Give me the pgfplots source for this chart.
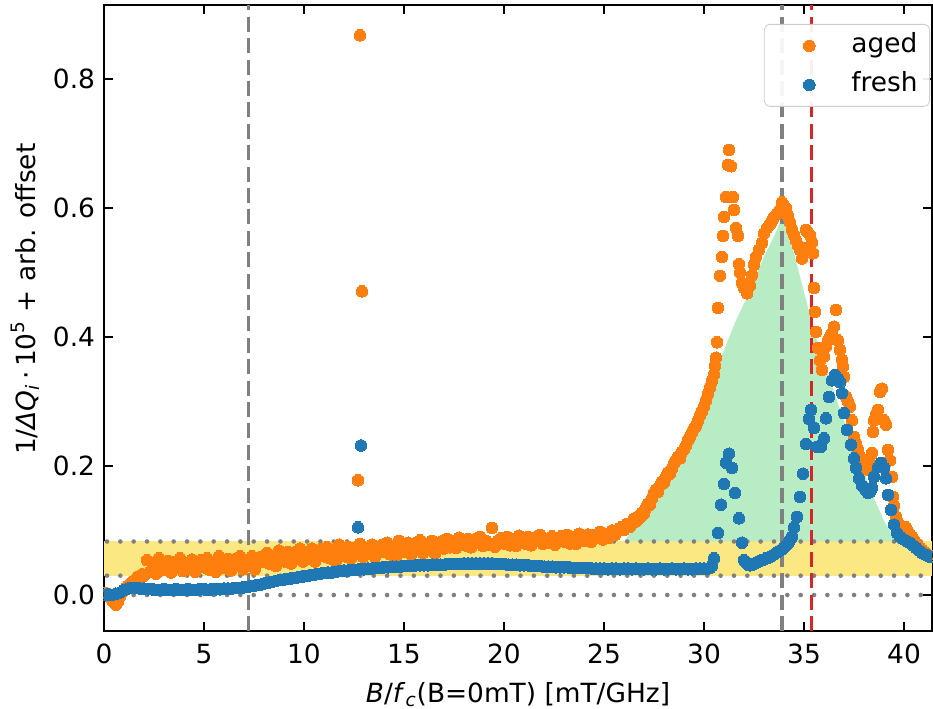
\documentclass[border=0pt]{standalone}
\usepackage{pgfplots}
\pgfplotsset{compat=1.18}
\usepackage{fontspec}
\setmainfont{DejaVu Sans}
\definecolor{orangec}{HTML}{FF7F0E}
\definecolor{bluec}{HTML}{1F77B4}
\definecolor{redc}{HTML}{D62728}
\definecolor{grayc}{HTML}{808080}
\definecolor{yellowc}{RGB}{252,232,130}
\definecolor{greenc}{RGB}{184,236,196}
\newcommand\fs{\fontsize{13.2bp}{15.8bp}\selectfont}
\begin{document}
\begin{tikzpicture}
\useasboundingbox (-52bp,-39bp) rectangle (414.5bp,315.5bp);
\begin{axis}[
  scale only axis, width=414bp, height=313bp,
  xmin=0, xmax=41.4, ymin=-0.0558, ymax=0.915,
  xtick={0,5,...,40}, ytick={0,0.2,0.4,0.6,0.8},
  yticklabels={0.0,0.2,0.4,0.6,0.8},
  /pgf/number format/assume math mode=true,
  tick align=inside, xtick pos=both, ytick pos=both,
  major tick length=4.3bp,
  every tick/.style={black, line width=0.8bp},
  axis line style={line width=0.8bp},
  tick label style={font=\fs},
  xticklabel style={yshift=-3bp},
  yticklabel style={xshift=-1bp},
  xlabel={\textit{B}/\textit{f}\textsubscript{\textit{c}}(B=0mT) [mT/GHz]},
  ylabel={1/\textit{ΔQ}\textsubscript{\textit{i}}\,·\,10\textsuperscript{5} + arb. offset},
  label style={font=\fs},
  xlabel style={at={(axis description cs:0.5,0)}, anchor=north, yshift=-22bp},
  ylabel style={at={(axis description cs:-0.095,0.53)}, anchor=center},
  clip marker paths=true,
  legend image code/.code={\path[draw=none,fill=none] (0bp,0bp) -- (37.5bp,0bp); \path[#1, draw=none, fill opacity=1, opacity=1] plot[only marks] coordinates {(18.5bp,0bp)};},
  legend style={at={(axis description cs:0.9976,0.9697)}, anchor=north east, draw=black!20, rounded corners=3bp,
    fill=white, fill opacity=0.92, text opacity=1, font=\fs, inner xsep=4bp, inner ysep=2.5bp,
    nodes={inner sep=2bp, text height=9.5bp, text depth=3bp},
    row sep=3bp},
  legend cell align=left,
]
% fills
\addplot[fill=yellowc, draw=none, forget plot] coordinates {(0,0.03) (41.4,0.03) (41.4,0.083) (0,0.083)} -- cycle;
\addplot[fill=greenc, draw=none, forget plot] coordinates {(26.0,0.083) (27.0,0.125) (28.0,0.175) (29.0,0.235) (30.0,0.305) (31.0,0.38) (31.6,0.426) (32.25,0.468) (33.0,0.525) (33.5,0.556) (33.9,0.585) (34.5,0.53) (35.0,0.47) (35.5,0.41) (36.0,0.36) (36.5,0.315) (37.0,0.27) (37.5,0.23) (38.0,0.19) (38.5,0.15) (39.0,0.115) (39.5,0.09) (39.7,0.083)} -- cycle;
% dotted lines
\addplot[grayc, line width=2.3bp, line cap=round, dash pattern=on 0bp off 6.67bp, forget plot] coordinates {(0.15,0) (41.4,0)};
\addplot[grayc, line width=2.3bp, line cap=round, dash pattern=on 0bp off 6.67bp, forget plot] coordinates {(0.15,0.03) (41.4,0.03)};
\addplot[grayc, line width=2.3bp, line cap=round, dash pattern=on 0bp off 6.67bp, forget plot] coordinates {(0.15,0.083) (41.4,0.083)};
% dashed lines
\addplot[grayc, line width=1.65bp, dash pattern=on 7.5bp off 3.2bp, forget plot] coordinates {(7.23,-0.0558) (7.23,0.915)};
\addplot[grayc, line width=1.65bp, dash pattern=on 7.5bp off 3.2bp, forget plot] coordinates {(33.9,-0.0558) (33.9,0.915)};
\addplot[redc, line width=1.65bp, dash pattern=on 7.5bp off 3.2bp, forget plot] coordinates {(35.36,-0.0558) (35.36,0.915)};
% aged
\addplot[only marks, mark=*, mark size=2.9bp, color=orangec, mark options={fill=orangec, draw=orangec, line width=0pt}] coordinates {
(0.0,0.003)(0.1,0.000)(0.2,0.002)(0.3,-0.004)(0.4,-0.008)(0.5,-0.012)(0.6,-0.015)(0.7,-0.010)(0.8,-0.002)(0.9,0.004)(1.0,0.008)(1.1,0.012)(1.2,0.010)(1.3,0.016)(1.4,0.020)(1.5,0.018)(1.6,0.024)(1.7,0.028)(1.8,0.025)(1.9,0.032)(2.0,0.030)
(2.15,0.054)(2.30,0.036)(2.45,0.048)(2.60,0.033)(2.75,0.057)(2.90,0.045)(3.05,0.039)(3.20,0.053)(3.35,0.035)(3.50,0.051)
(3.65,0.044)(3.80,0.057)(3.95,0.037)(4.10,0.049)(4.25,0.041)(4.40,0.055)(4.55,0.036)(4.70,0.048)(4.85,0.054)(5.00,0.043)
(5.15,0.057)(5.30,0.039)(5.45,0.051)(5.60,0.036)(5.75,0.060)(5.90,0.048)(6.05,0.042)(6.20,0.056)(6.35,0.038)(6.50,0.055)
(6.65,0.047)(6.80,0.060)(6.95,0.040)(7.10,0.053)(7.25,0.045)(7.40,0.060)(7.55,0.040)(7.70,0.053)(7.85,0.059)(8.00,0.051)
(8.15,0.065)(8.30,0.048)(8.45,0.060)(8.60,0.045)(8.75,0.069)(8.90,0.058)(9.05,0.052)(9.20,0.067)(9.35,0.049)(9.50,0.066)
(9.65,0.058)(9.80,0.072)(9.95,0.052)(10.10,0.065)(10.25,0.057)(10.40,0.072)(10.55,0.052)(10.70,0.064)(10.85,0.071)(11.00,0.060)
(11.15,0.074)(11.30,0.057)(11.45,0.069)(11.60,0.053)(11.75,0.078)(11.90,0.066)(12.05,0.060)(12.20,0.075)(12.35,0.057)(12.50,0.073)
(12.65,0.066)(12.80,0.079)(12.95,0.059)(13.10,0.072)(13.25,0.064)(13.40,0.078)(13.55,0.059)(13.70,0.071)(13.85,0.077)(14.00,0.067)
(14.15,0.081)(14.30,0.063)(14.45,0.076)(14.60,0.060)(14.75,0.084)(14.90,0.073)(15.05,0.067)(15.20,0.081)(15.35,0.063)(15.50,0.080)
(15.65,0.072)(15.80,0.085)(15.95,0.065)(16.10,0.078)(16.25,0.070)(16.40,0.084)(16.55,0.064)(16.70,0.077)(16.85,0.083)(17.00,0.072)
(17.15,0.087)(17.30,0.074)(17.45,0.083)(17.60,0.073)(17.75,0.089)(17.90,0.081)(18.05,0.077)(18.20,0.087)(18.35,0.074)(18.50,0.086)
(18.65,0.081)(18.80,0.090)(18.95,0.076)(19.10,0.084)(19.25,0.078)(19.40,0.104)(19.55,0.075)(19.70,0.084)(19.85,0.088)(20.00,0.080)
(20.15,0.090)(20.30,0.077)(20.45,0.087)(20.60,0.076)(20.75,0.092)(20.90,0.084)(21.05,0.080)(21.20,0.090)(21.35,0.077)(21.50,0.089)
(21.65,0.084)(21.80,0.093)(21.95,0.079)(22.10,0.087)(22.25,0.081)(22.40,0.091)(22.55,0.078)(22.70,0.087)(22.85,0.091)(23.00,0.083)
(23.15,0.093)(23.30,0.080)(23.45,0.090)(23.60,0.079)(23.75,0.095)(23.90,0.087)(24.05,0.084)(24.20,0.094)(24.35,0.082)(24.50,0.093)
(24.65,0.089)(24.80,0.098)(24.95,0.086)(25.10,0.094)(25.25,0.089)(25.40,0.100)(25.55,0.093)(25.70,0.102)(25.85,0.105)(26.00,0.101)
(26.15,0.110)(26.30,0.106)
(12.8,0.868)(12.9,0.471)(12.7,0.178)
(26.4,0.112)(26.5,0.118)(26.6,0.114)(26.7,0.122)(26.8,0.120)(26.9,0.128)(27.0,0.126)(27.1,0.135)(27.2,0.142)(27.3,0.140)
(27.4,0.150)(27.5,0.158)(27.6,0.163)(27.7,0.160)(27.8,0.170)(27.9,0.176)(28.0,0.174)(28.1,0.183)(28.2,0.190)(28.3,0.188)
(28.4,0.196)(28.5,0.204)(28.6,0.209)(28.7,0.214)(28.8,0.212)(28.9,0.222)(29.0,0.226)(29.1,0.232)(29.2,0.240)(29.3,0.245)
(29.4,0.252)(29.5,0.258)(29.6,0.262)(29.7,0.270)(29.8,0.278)(29.9,0.285)(30.0,0.292)(30.1,0.302)(30.2,0.312)(30.3,0.322)
(30.4,0.332)(30.5,0.342)(30.55,0.355)(30.6,0.368)(30.65,0.392)
(30.7,0.445)(30.8,0.495)(30.9,0.524)(30.95,0.557)(31.0,0.586)(31.1,0.617)(31.2,0.667)(31.25,0.69)(31.35,0.665)(31.45,0.617)
(31.5,0.597)(31.6,0.569)(31.7,0.557)(31.75,0.513)(31.8,0.500)(31.9,0.484)(32.0,0.476)(32.15,0.468)(32.3,0.48)(32.4,0.496)
(32.5,0.512)(32.6,0.524)(32.75,0.535)(32.9,0.546)(33.0,0.561)(33.15,0.569)(33.3,0.575)(33.4,0.58)(33.5,0.586)(33.65,0.592)
(33.8,0.596)(33.9,0.609)(34.0,0.604)(34.1,0.600)(34.2,0.588)(34.3,0.578)(34.4,0.566)(34.5,0.558)(34.6,0.55)(34.7,0.542)
(34.8,0.535)(34.9,0.522)(35.0,0.538)(35.1,0.566)(35.2,0.562)(35.3,0.558)(35.4,0.547)(35.45,0.530)(35.5,0.476)(35.55,0.439)
(35.6,0.408)(35.7,0.383)(35.8,0.364)(35.9,0.349)(36.0,0.370)(36.1,0.385)(36.2,0.395)(36.3,0.400)(36.4,0.406)(36.5,0.416)
(36.6,0.442)(36.7,0.395)(36.8,0.380)(36.9,0.365)(36.95,0.354)(37.0,0.338)(37.1,0.307)(37.2,0.300)(37.3,0.292)(37.4,0.271)
(37.5,0.245)(37.6,0.235)(37.7,0.225)(37.8,0.215)(37.9,0.209)(38.0,0.200)(38.1,0.196)(38.2,0.194)(38.3,0.205)(38.4,0.220)
(38.45,0.253)(38.5,0.271)(38.6,0.280)(38.7,0.287)(38.8,0.315)(38.85,0.318)(38.9,0.320)(39.0,0.271)(39.1,0.264)(39.2,0.225)
(39.3,0.209)(39.4,0.183)(39.45,0.152)(39.5,0.138)(39.6,0.121)(39.7,0.112)(39.8,0.105)(39.9,0.100)(40.0,0.102)(40.1,0.105)
(40.2,0.098)(40.3,0.093)(40.4,0.090)(40.5,0.085)(40.6,0.080)(40.7,0.076)(40.8,0.074)(40.9,0.070)(41.0,0.067)(41.1,0.065)
(41.2,0.062)(41.3,0.060)
};
\addlegendentry{aged}
% fresh
\addplot[only marks, mark=*, mark size=2.9bp, color=bluec, mark options={fill=bluec, draw=bluec, line width=0pt}] coordinates {
(0.0,0.000)(0.2,0.001)(0.4,0.000)(0.6,0.002)(0.8,0.004)(1.0,0.008)(1.2,0.010)(1.4,0.011)(1.6,0.011)(1.8,0.010)
(2.0,0.010)(2.2,0.009)(2.4,0.009)(2.6,0.008)(2.8,0.008)(3.0,0.009)(3.2,0.008)(3.4,0.008)(3.6,0.009)(3.8,0.008)
(4.0,0.008)(4.2,0.009)(4.4,0.008)(4.6,0.008)(4.8,0.009)(5.0,0.009)(5.2,0.008)(5.4,0.009)(5.6,0.009)(5.8,0.009)
(6.0,0.010)(6.2,0.010)(6.4,0.010)(6.6,0.011)(6.8,0.011)(7.0,0.012)(7.2,0.013)(7.4,0.014)(7.6,0.015)(7.8,0.016)
(8.0,0.018)(8.2,0.019)(8.4,0.020)(8.6,0.022)(8.8,0.023)(9.0,0.024)(9.2,0.025)(9.4,0.026)(9.6,0.027)(9.8,0.028)
(10.0,0.029)(10.2,0.030)(10.4,0.031)(10.6,0.032)(10.8,0.033)(11.0,0.034)(11.2,0.035)(11.4,0.035)(11.6,0.036)(11.8,0.037)
(12.0,0.038)(12.2,0.038)(12.4,0.039)(12.6,0.039)(12.8,0.040)(13.0,0.040)(13.2,0.041)(13.4,0.041)(13.6,0.042)(13.8,0.042)
(14.0,0.043)(14.2,0.043)(14.4,0.044)(14.6,0.044)(14.8,0.044)(15.0,0.045)(15.2,0.045)(15.4,0.045)(15.6,0.046)(15.8,0.046)
(16.0,0.046)(16.2,0.046)(16.4,0.047)(16.6,0.047)(16.8,0.047)(17.0,0.047)(17.2,0.048)(17.4,0.048)(17.6,0.048)(17.8,0.048)
(18.0,0.049)(18.2,0.049)(18.4,0.049)(18.6,0.049)(18.8,0.049)(19.0,0.049)(19.2,0.049)(19.4,0.049)(19.6,0.048)(19.8,0.048)
(20.0,0.048)(20.2,0.047)(20.4,0.047)(20.6,0.047)(20.8,0.046)(21.0,0.046)(21.2,0.046)(21.4,0.045)(21.6,0.045)(21.8,0.045)
(22.0,0.044)(22.2,0.044)(22.4,0.044)(22.6,0.043)(22.8,0.043)(23.0,0.043)(23.2,0.043)(23.4,0.042)(23.6,0.042)(23.8,0.042)
(24.0,0.042)(24.2,0.042)(24.4,0.041)(24.6,0.041)(24.8,0.041)(25.0,0.041)(25.2,0.040)(25.4,0.041)(25.6,0.041)(25.8,0.040)
(26.0,0.041)(26.2,0.041)(26.4,0.040)(26.6,0.041)(26.8,0.040)(27.0,0.040)(27.2,0.041)(27.4,0.040)(27.6,0.040)(27.8,0.041)
(28.0,0.040)(28.2,0.040)(28.4,0.041)(28.6,0.040)(28.8,0.040)(29.0,0.041)(29.2,0.040)(29.4,0.040)(29.6,0.041)(29.8,0.041)
(30.0,0.041)(30.2,0.041)(30.3,0.042)(30.4,0.045)
(12.85,0.232)(12.7,0.105)
(30.5,0.057)(30.7,0.096)(30.85,0.14)(31.0,0.172)(31.1,0.205)(31.25,0.219)(31.4,0.197)(31.55,0.158)(31.75,0.119)(31.9,0.081)
(32.0,0.054)(32.1,0.050)(32.2,0.047)(32.3,0.046)(32.4,0.047)(32.5,0.048)(32.6,0.050)(32.7,0.051)(32.8,0.053)(32.9,0.054)
(33.0,0.055)(33.1,0.057)(33.2,0.058)(33.3,0.059)(33.4,0.061)(33.5,0.063)(33.6,0.065)(33.7,0.067)(33.8,0.069)(33.9,0.071)
(34.0,0.074)(34.1,0.077)(34.2,0.080)(34.3,0.085)(34.4,0.090)(34.5,0.105)(34.65,0.121)(34.8,0.152)(34.95,0.188)(35.1,0.234)
(35.25,0.273)(35.35,0.287)(35.5,0.259)(35.65,0.230)(35.85,0.230)(36.0,0.243)(36.1,0.274)(36.25,0.307)(36.4,0.333)(36.55,0.341)
(36.7,0.335)(36.8,0.330)(36.9,0.313)(37.0,0.282)(37.15,0.256)(37.35,0.233)(37.5,0.212)(37.6,0.197)(37.75,0.181)(37.9,0.170)
(38.0,0.167)(38.1,0.162)(38.2,0.158)(38.3,0.160)(38.4,0.166)(38.5,0.183)(38.7,0.198)(38.85,0.205)(39.0,0.197)(39.1,0.181)
(39.2,0.155)(39.35,0.132)(39.5,0.109)(39.65,0.096)(39.8,0.090)(39.9,0.088)(40.0,0.086)(40.15,0.083)(40.3,0.081)(40.45,0.077)
(40.6,0.073)(40.75,0.069)(40.9,0.065)(41.1,0.062)(41.3,0.059)
};
\addlegendentry{fresh}
\end{axis}
\end{tikzpicture}
\end{document}
